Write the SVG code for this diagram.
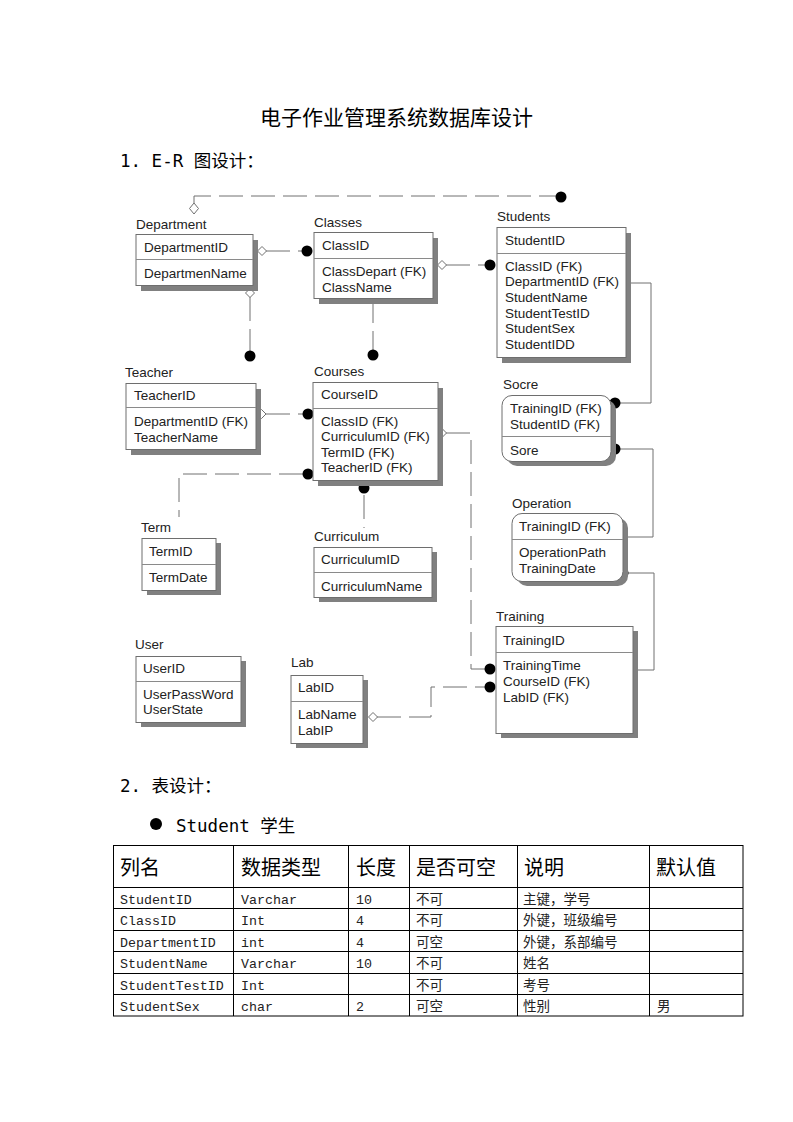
<svg xmlns="http://www.w3.org/2000/svg" width="793" height="1122" viewBox="0 0 793 1122">
<style>
.bg{fill:#fff}
.sh{fill:#808080}
.bx{fill:#fff;stroke:#6e6e6e;stroke-width:1}
.dv{stroke:#8a8a8a;stroke-width:1}
.lb{font-family:"Liberation Sans",Arial,sans-serif;font-size:13.5px;fill:#222}
.ln{fill:none;stroke:#707070;stroke-width:1}
.ds{fill:none;stroke:#707070;stroke-width:1;stroke-dasharray:24 8}
.dot{fill:#000}
.dia{fill:#fff;stroke:#707070;stroke-width:1}
.h{font-family:"Noto Sans CJK SC",sans-serif;fill:#000}
.hm{font-family:"DejaVu Sans Mono","Noto Sans CJK SC",monospace;fill:#000}
.th{font-family:"Noto Sans CJK SC",sans-serif;font-size:20px;fill:#000}
.tl{font-family:"Liberation Mono","Noto Sans CJK SC",monospace;font-size:13.3px;fill:#222}
.tc{font-family:"Noto Sans CJK SC",sans-serif;font-size:13.5px;fill:#222}
.tg{stroke:#000;stroke-width:1;fill:none}
</style>
<rect class="bg" x="0" y="0" width="793" height="1122"/>

<text class="h" x="396.5" y="125" font-size="21" text-anchor="middle">电子作业管理系统数据库设计</text>
<text class="hm" x="120" y="167" font-size="17.5">1. E-R 图设计：</text>

<g id="connectors">
  <polyline class="ds" points="194,203 194,196 556,196"/>
  <circle class="dot" cx="561" cy="197" r="5.5"/>
  <polygon class="dia" points="194,203 198.5,208.5 194,214 189.5,208.5"/>

  <line class="ds" x1="266" y1="251" x2="302" y2="251"/>
  <polygon class="dia" points="257.5,251 262,246.5 266.5,251 262,255.5"/>
  <circle class="dot" cx="307" cy="251" r="5.5"/>

  <line class="ds" x1="250" y1="297" x2="250" y2="351"/>
  <polygon class="dia" points="250,288.5 254.5,293 250,297.5 245.5,293"/>
  <circle class="dot" cx="250" cy="356" r="5.5"/>

  <line class="ds" x1="373" y1="299" x2="373" y2="350"/>
  <circle class="dot" cx="373" cy="355" r="5.5"/>

  <line class="ds" x1="446" y1="265" x2="485" y2="265"/>
  <polygon class="dia" points="437.5,265 442,260.5 446.5,265 442,269.5"/>
  <circle class="dot" cx="490" cy="265" r="5.5"/>

  <polyline class="ln" points="626,283 651,283 651,403 615,403"/>
  <circle class="dot" cx="615" cy="403" r="5.5"/>

  <polyline class="ln" points="615,449 653,449 653,537 623,537"/>
  <circle class="dot" cx="615" cy="449" r="5.5"/>

  <polyline class="ln" points="623,573 654,573 654,670 633,670"/>
  <circle class="dot" cx="623" cy="573" r="5.5"/>

  <line class="ds" x1="266" y1="414" x2="303" y2="414"/>
  <polygon class="dia" points="257,414 261.5,409.5 266,414 261.5,418.5"/>
  <circle class="dot" cx="308" cy="414" r="5.5"/>

  <polyline class="ds" points="303,474 179,474 179,517"/>
  <circle class="dot" cx="308" cy="474" r="5.5"/>

  <line class="ds" x1="364" y1="495" x2="364" y2="528"/>
  <circle class="dot" cx="364" cy="488" r="5.5"/>

  <polyline class="ds" points="446,433 471,433 471,669 485,669"/>
  <polygon class="dia" points="437.5,433 442,428.5 446.5,433 442,437.5"/>
  <circle class="dot" cx="490" cy="669" r="5.5"/>

  <polyline class="ds" points="377,717 431,717 431,687 485,687"/>
  <polygon class="dia" points="368.5,717 373,712.5 377.5,717 373,721.5"/>
  <circle class="dot" cx="490" cy="687" r="5.5"/>
</g>

<g id="department">
  <text class="lb" x="136" y="229">Department</text>
  <rect class="sh" x="141" y="240" width="117" height="51"/>
  <rect class="bx" x="136" y="234.5" width="117" height="51"/>
  <line class="dv" x1="136" y1="259.5" x2="253" y2="259.5"/>
  <text class="lb" x="144" y="252">DepartmentID</text>
  <text class="lb" x="144" y="278">DepartmenName</text>
</g>

<g id="classes">
  <text class="lb" x="314" y="227">Classes</text>
  <rect class="sh" x="319" y="238" width="119" height="66"/>
  <rect class="bx" x="314" y="232.5" width="119" height="66"/>
  <line class="dv" x1="314" y1="258.5" x2="433" y2="258.5"/>
  <text class="lb" x="322" y="250">ClassID</text>
  <text class="lb" x="322" y="276">ClassDepart (FK)</text>
  <text class="lb" x="322" y="292">ClassName</text>
</g>

<g id="students">
  <text class="lb" x="497" y="221">Students</text>
  <rect class="sh" x="502" y="233" width="129" height="130"/>
  <rect class="bx" x="497" y="227.5" width="129" height="130"/>
  <line class="dv" x1="497" y1="253.5" x2="626" y2="253.5"/>
  <text class="lb" x="505" y="245">StudentID</text>
  <text class="lb" x="505" y="271">ClassID (FK)</text>
  <text class="lb" x="505" y="286">DepartmentID (FK)</text>
  <text class="lb" x="505" y="302">StudentName</text>
  <text class="lb" x="505" y="318">StudentTestID</text>
  <text class="lb" x="505" y="333">StudentSex</text>
  <text class="lb" x="505" y="349">StudentIDD</text>
</g>

<g id="socre">
  <text class="lb" x="503" y="389">Socre</text>
  <rect class="sh" x="507" y="400" width="109" height="66" rx="10"/>
  <rect class="bx" x="502" y="395.5" width="109" height="66" rx="10"/>
  <line class="dv" x1="502" y1="436.5" x2="611" y2="436.5"/>
  <text class="lb" x="510" y="413">TrainingID (FK)</text>
  <text class="lb" x="510" y="429">StudentID (FK)</text>
  <text class="lb" x="510" y="455">Sore</text>
</g>

<g id="operation">
  <text class="lb" x="512" y="508">Operation</text>
  <rect class="sh" x="517" y="518" width="111" height="68" rx="10"/>
  <rect class="bx" x="512" y="513.5" width="111" height="68" rx="10"/>
  <line class="dv" x1="512" y1="539.5" x2="623" y2="539.5"/>
  <text class="lb" x="519" y="531">TrainingID (FK)</text>
  <text class="lb" x="519" y="557">OperationPath</text>
  <text class="lb" x="519" y="573">TrainingDate</text>
</g>

<g id="teacher">
  <text class="lb" x="125" y="377">Teacher</text>
  <rect class="sh" x="131" y="389" width="130" height="66"/>
  <rect class="bx" x="126" y="383.5" width="130" height="66"/>
  <line class="dv" x1="126" y1="407.5" x2="256" y2="407.5"/>
  <text class="lb" x="134" y="400">TeacherID</text>
  <text class="lb" x="134" y="426">DepartmentID (FK)</text>
  <text class="lb" x="134" y="442">TeacherName</text>
</g>

<g id="courses">
  <text class="lb" x="314" y="376">Courses</text>
  <rect class="sh" x="318" y="388" width="125" height="98"/>
  <rect class="bx" x="313" y="382.5" width="125" height="98"/>
  <line class="dv" x1="313" y1="408.5" x2="438" y2="408.5"/>
  <text class="lb" x="321" y="399">CourseID</text>
  <text class="lb" x="321" y="426">ClassID (FK)</text>
  <text class="lb" x="321" y="441">CurriculumID (FK)</text>
  <text class="lb" x="321" y="457">TermID (FK)</text>
  <text class="lb" x="321" y="472">TeacherID (FK)</text>
</g>

<g id="term">
  <text class="lb" x="141" y="532">Term</text>
  <rect class="sh" x="147" y="543" width="74" height="52"/>
  <rect class="bx" x="142" y="538.5" width="74" height="52"/>
  <line class="dv" x1="142" y1="564.5" x2="216" y2="564.5"/>
  <text class="lb" x="149" y="556">TermID</text>
  <text class="lb" x="149" y="582">TermDate</text>
</g>

<g id="curriculum">
  <text class="lb" x="314" y="541">Curriculum</text>
  <rect class="sh" x="319" y="552" width="118" height="50"/>
  <rect class="bx" x="314" y="547.5" width="118" height="50"/>
  <line class="dv" x1="314" y1="572.5" x2="432" y2="572.5"/>
  <text class="lb" x="321" y="564">CurriculumID</text>
  <text class="lb" x="321" y="591">CurriculumName</text>
</g>

<g id="user">
  <text class="lb" x="135" y="649">User</text>
  <rect class="sh" x="141" y="661" width="105" height="66"/>
  <rect class="bx" x="136" y="656.5" width="105" height="66"/>
  <line class="dv" x1="136" y1="681.5" x2="241" y2="681.5"/>
  <text class="lb" x="143" y="673">UserID</text>
  <text class="lb" x="143" y="699">UserPassWord</text>
  <text class="lb" x="143" y="714">UserState</text>
</g>

<g id="lab">
  <text class="lb" x="291" y="667">Lab</text>
  <rect class="sh" x="296" y="680" width="72" height="68"/>
  <rect class="bx" x="291" y="675.5" width="72" height="68"/>
  <line class="dv" x1="291" y1="701.5" x2="363" y2="701.5"/>
  <text class="lb" x="298" y="692">LabID</text>
  <text class="lb" x="298" y="719">LabName</text>
  <text class="lb" x="298" y="735">LabIP</text>
</g>

<g id="training">
  <text class="lb" x="496" y="621">Training</text>
  <rect class="sh" x="501" y="631" width="137" height="107"/>
  <rect class="bx" x="496" y="626.5" width="137" height="107"/>
  <line class="dv" x1="496" y1="652.5" x2="633" y2="652.5"/>
  <text class="lb" x="503" y="645">TrainingID</text>
  <text class="lb" x="503" y="670">TrainingTime</text>
  <text class="lb" x="503" y="686">CourseID (FK)</text>
  <text class="lb" x="503" y="702">LabID (FK)</text>
</g>

<text class="hm" x="120" y="792" font-size="17.5">2. 表设计：</text>
<circle cx="156" cy="824" r="6" fill="#000"/>
<text class="hm" x="176" y="832" font-size="17.5">Student 学生</text>

<g id="table">
  <rect class="tg" x="113.5" y="845.5" width="629.5" height="170.5"/>
  <line class="tg" x1="233.5" y1="845.5" x2="233.5" y2="1016"/>
  <line class="tg" x1="348.5" y1="845.5" x2="348.5" y2="1016"/>
  <line class="tg" x1="409.5" y1="845.5" x2="409.5" y2="1016"/>
  <line class="tg" x1="517.5" y1="845.5" x2="517.5" y2="1016"/>
  <line class="tg" x1="649.5" y1="845.5" x2="649.5" y2="1016"/>
  <line class="tg" x1="113.5" y1="887.5" x2="743" y2="887.5"/>
  <line class="tg" x1="113.5" y1="908.5" x2="743" y2="908.5"/>
  <line class="tg" x1="113.5" y1="930.5" x2="743" y2="930.5"/>
  <line class="tg" x1="113.5" y1="951.5" x2="743" y2="951.5"/>
  <line class="tg" x1="113.5" y1="973.5" x2="743" y2="973.5"/>
  <line class="tg" x1="113.5" y1="994.5" x2="743" y2="994.5"/>

  <text class="th" x="120" y="875">列名</text>
  <text class="th" x="241" y="875">数据类型</text>
  <text class="th" x="356" y="875">长度</text>
  <text class="th" x="416" y="875">是否可空</text>
  <text class="th" x="524" y="875">说明</text>
  <text class="th" x="656" y="875">默认值</text>

  <text class="tl" x="120" y="904">StudentID</text>
  <text class="tl" x="241" y="904">Varchar</text>
  <text class="tl" x="356" y="904">10</text>
  <text class="tc" x="416" y="904">不可</text>
  <text class="tc" x="523" y="904">主键，学号</text>

  <text class="tl" x="120" y="925">ClassID</text>
  <text class="tl" x="241" y="925">Int</text>
  <text class="tl" x="356" y="925">4</text>
  <text class="tc" x="416" y="925">不可</text>
  <text class="tc" x="523" y="925">外键，班级编号</text>

  <text class="tl" x="120" y="947">DepartmentID</text>
  <text class="tl" x="241" y="947">int</text>
  <text class="tl" x="356" y="947">4</text>
  <text class="tc" x="416" y="947">可空</text>
  <text class="tc" x="523" y="947">外键，系部编号</text>

  <text class="tl" x="120" y="968">StudentName</text>
  <text class="tl" x="241" y="968">Varchar</text>
  <text class="tl" x="356" y="968">10</text>
  <text class="tc" x="416" y="968">不可</text>
  <text class="tc" x="523" y="968">姓名</text>

  <text class="tl" x="120" y="990">StudentTestID</text>
  <text class="tl" x="241" y="990">Int</text>
  <text class="tc" x="416" y="990">不可</text>
  <text class="tc" x="523" y="990">考号</text>

  <text class="tl" x="120" y="1011">StudentSex</text>
  <text class="tl" x="241" y="1011">char</text>
  <text class="tl" x="356" y="1011">2</text>
  <text class="tc" x="416" y="1011">可空</text>
  <text class="tc" x="523" y="1011">性别</text>
  <text class="tc" x="657" y="1011">男</text>
</g>
</svg>
